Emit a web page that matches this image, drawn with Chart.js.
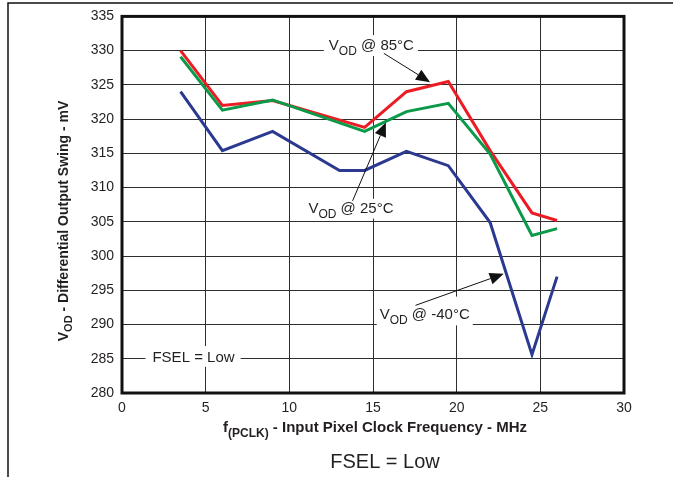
<!DOCTYPE html>
<html>
<head>
<meta charset="utf-8">
<script src="https://cdn.jsdelivr.net/npm/chart.js@4.4.0/dist/chart.umd.min.js"></script>
<style>
html, body { margin: 0; padding: 0; background: #fff; }
#wrap { position: relative; width: 673px; height: 477px; }
</style>
</head>
<body>
<div id="wrap"><canvas id="chart" width="673" height="477"></canvas></div>
<script>
// f(PCLK) in MHz, V_OD in mV (null = no reading at that frequency)
const freqMHz = [3.5, 6, 9, 13, 14.5, 17, 19.5, 22, 24.5, 26];
const vod85 = [330.0, 322.0, 322.7, null, 318.8, 324.0, 325.5, 315.4, 306.3, 305.2];
const vod25 = [329.1, 321.3, 322.8, null, 318.2, 321.1, 322.3, 314.9, 303.0, 304.0];
const vodMinus40 = [324.0, 315.4, 318.2, 312.5, 312.5, 315.3, 313.2, 304.9, 285.6, 297.0];

const xMin = 0, xMax = 30, xStep = 5;
const yMin = 280, yMax = 335, yStep = 5;

const FONT = '"Liberation Sans", Arial, Helvetica, sans-serif';
const INK = '#231f20';

const toPoints = (values) => freqMHz.map((x, i) => ({ x, y: values[i] }));

const vodParts = (temp, size, subSize) => [
    { text: 'V', size },
    { text: 'OD', size: subSize, dy: 5 },
    { text: ' @ ' + temp, size },
];

// label placement in data units: x = left of text, y = baseline
const notes = [
    { parts: vodParts('85°C', 15, 12), x: 12.36, y: 330.1, pad: [5, 4, 4, 6] },
    { parts: vodParts('25°C', 15, 12), x: 11.14, y: 306.35, pad: [4, 3, 4, 6] },
    { parts: vodParts('-40°C', 15, 12), x: 15.4, y: 290.75, pad: [3, 12, 3, 6] },
    { parts: [{ text: 'FSEL = Low', size: 15 }], x: 1.82, y: 284.55, pad: [7, 5, 6, 5] },
];

const arrows = [
    { from: [15.65, 329.6], to: [18.41, 325.4] },
    { from: [13.78, 308.06], to: [15.77, 319.5] },
    { from: [17.54, 292.8], to: [22.81, 297.4] },
];

const setFont = (ctx, p) => {
    ctx.font = `${p.bold ? 'bold ' : ''}${p.size}px ${FONT}`;
};

const richWidth = (ctx, parts) => {
    let w = 0;
    parts.forEach((p) => {
        setFont(ctx, p);
        w += ctx.measureText(p.text).width;
    });
    return w;
};

const drawRich = (ctx, x, y, parts) => {
    let cx = x;
    parts.forEach((p) => {
        setFont(ctx, p);
        ctx.fillText(p.text, cx, y + (p.dy || 0));
        cx += ctx.measureText(p.text).width;
    });
};

const decorations = {
    id: 'decorations',
    beforeDatasetsDraw(chart) {
        const { ctx, scales } = chart;
        ctx.save();
        ctx.textBaseline = 'alphabetic';
        ctx.textAlign = 'left';
        notes.forEach((n) => {
            const px = scales.x.getPixelForValue(n.x);
            const py = scales.y.getPixelForValue(n.y);
            const w = richWidth(ctx, n.parts);
            const size = n.parts[0].size;
            const [l, t, r, b] = n.pad;
            ctx.fillStyle = '#fff';
            ctx.fillRect(px - l, py - size * 0.72 - t, w + l + r, size * 0.72 + t + b);
            ctx.fillStyle = INK;
            drawRich(ctx, px, py, n.parts);
        });
        ctx.restore();
    },
    afterDatasetsDraw(chart) {
        const { ctx, scales } = chart;
        ctx.save();
        ctx.strokeStyle = '#111';
        ctx.fillStyle = '#111';
        ctx.lineWidth = 1;
        arrows.forEach((a) => {
            const x1 = scales.x.getPixelForValue(a.from[0]);
            const y1 = scales.y.getPixelForValue(a.from[1]);
            const x2 = scales.x.getPixelForValue(a.to[0]);
            const y2 = scales.y.getPixelForValue(a.to[1]);
            const ang = Math.atan2(y2 - y1, x2 - x1);
            const len = 14, half = 6;
            const bx = x2 - len * Math.cos(ang);
            const by = y2 - len * Math.sin(ang);
            ctx.beginPath();
            ctx.moveTo(x1, y1);
            ctx.lineTo(bx, by);
            ctx.stroke();
            ctx.beginPath();
            ctx.moveTo(x2, y2);
            ctx.lineTo(bx + half * Math.sin(ang), by - half * Math.cos(ang));
            ctx.lineTo(bx - half * Math.sin(ang), by + half * Math.cos(ang));
            ctx.closePath();
            ctx.fill();
        });
        ctx.restore();
    },
    afterDraw(chart) {
        const { ctx, chartArea: a } = chart;
        ctx.save();
        // plot frame
        ctx.strokeStyle = '#111';
        ctx.lineWidth = 3;
        ctx.strokeRect(a.left, a.top, a.right - a.left, a.bottom - a.top);

        // outer page rules
        ctx.lineWidth = 1.5;
        ctx.beginPath();
        ctx.moveTo(8, 477);
        ctx.lineTo(8, 3);
        ctx.lineTo(673, 3);
        ctx.stroke();

        ctx.fillStyle = INK;
        ctx.textBaseline = 'alphabetic';
        ctx.textAlign = 'left';

        // y title
        const yParts = [
            { text: 'V', size: 14, bold: true },
            { text: 'OD', size: 11, bold: true, dy: 4 },
            { text: ' - Differential Output Swing - mV', size: 14, bold: true },
        ];
        ctx.save();
        ctx.translate(68, 221);
        ctx.rotate(-Math.PI / 2);
        drawRich(ctx, -richWidth(ctx, yParts) / 2, 0, yParts);
        ctx.restore();

        // x title
        const xParts = [
            { text: 'f', size: 15, bold: true },
            { text: '(PCLK)', size: 12, bold: true, dy: 5 },
            { text: ' - Input Pixel Clock Frequency - MHz', size: 15, bold: true },
        ];
        drawRich(ctx, 375 - richWidth(ctx, xParts) / 2, 432, xParts);

        // caption
        ctx.font = `20px ${FONT}`;
        ctx.textAlign = 'center';
        ctx.fillText('FSEL = Low', 385, 468);
        ctx.restore();
    },
};

const lineStyle = (color) => ({
    borderColor: color,
    backgroundColor: color,
    borderWidth: 3,
    pointRadius: 0,
    tension: 0,
    spanGaps: true,
    fill: false,
});

new Chart(document.getElementById('chart'), {
    type: 'line',
    data: {
        datasets: [
            { label: 'VOD @ 25°C', data: toPoints(vod25), ...lineStyle('#0b9a49') },
            { label: 'VOD @ 85°C', data: toPoints(vod85), ...lineStyle('#ec1c24') },
            { label: 'VOD @ -40°C', data: toPoints(vodMinus40), ...lineStyle('#2b3990') },
        ],
    },
    options: {
        responsive: false,
        animation: false,
        layout: { padding: { top: 15, right: 49, left: 0, bottom: 0 } },
        plugins: {
            legend: { display: false },
            tooltip: { enabled: false },
        },
        scales: {
            x: {
                type: 'linear',
                min: xMin,
                max: xMax,
                ticks: {
                    stepSize: xStep,
                    padding: 7,
                    color: INK,
                    font: { family: FONT, size: 14 },
                },
                grid: { color: '#2e2e2e', lineWidth: 1, drawTicks: false },
                border: { display: false },
                afterFit(scale) {
                    scale.height = 84;
                },
            },
            y: {
                min: yMin,
                max: yMax,
                ticks: {
                    stepSize: yStep,
                    padding: 8,
                    color: INK,
                    font: { family: FONT, size: 14 },
                },
                grid: { color: '#2e2e2e', lineWidth: 1, drawTicks: false },
                border: { display: false },
                afterFit(scale) {
                    scale.width = 122;
                },
            },
        },
    },
    plugins: [decorations],
});
</script>
</body>
</html>
